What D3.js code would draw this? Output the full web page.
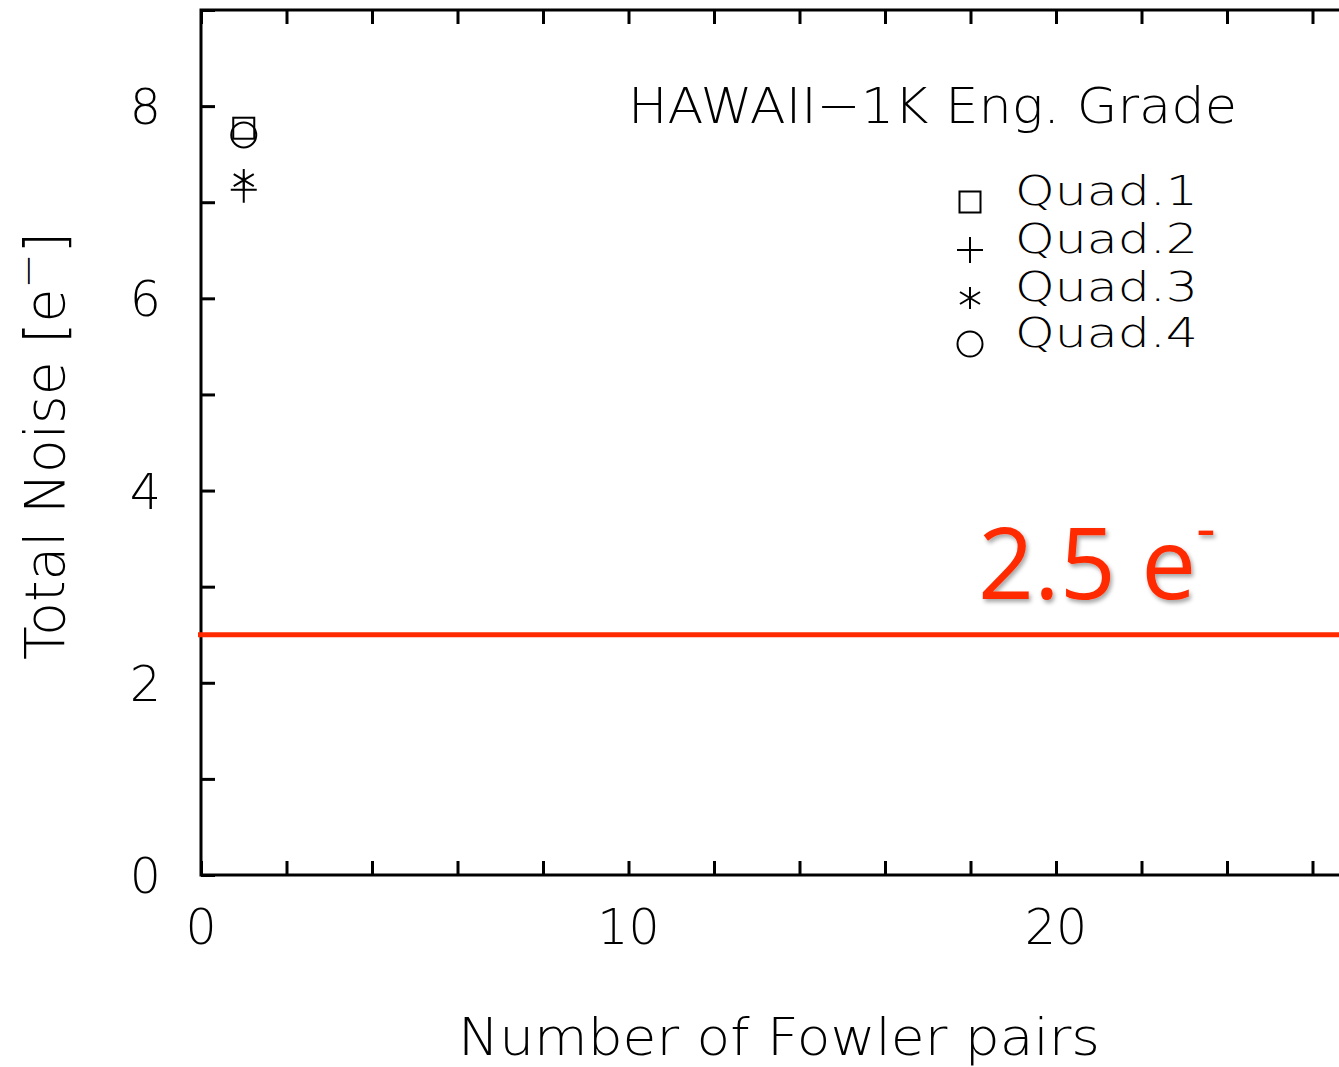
<!DOCTYPE html>
<html>
<head>
<meta charset="utf-8">
<script src="https://cdn.jsdelivr.net/npm/d3@7"></script>
<style>
  html, body { margin: 0; padding: 0; background: #fff; }
  svg { display: block; }
  .lbl { font-family: "DejaVu Sans", sans-serif; font-weight: 200; fill: #000; }
</style>
</head>
<body>
<svg id="chart" width="1339" height="1067"></svg>
<script>
// Total noise per quadrant vs. number of Fowler pairs
const quadrants = ["Quad.1", "Quad.2", "Quad.3", "Quad.4"];
const fowlerPairs = [1, 1, 1, 1];
const totalNoise = [7.77, 7.13, 7.23, 7.70];
const symbols = ["square", "plus", "asterisk", "circle"];
const xTicks = [0, 10, 20];
const yTicks = [0, 2, 4, 6, 8];
const requirement = 2.5;
const chartTitle = "HAWAII\u22121K Eng. Grade";

const svg = d3.select("#chart");
const W = 1339, H = 1067;
const x = d3.scaleLinear().domain([0, 30]).range([201, 201 + 30 * 42.75]);
const y = d3.scaleLinear().domain([0, 9]).range([875, 10]);

// frame
svg.append("rect")
  .attr("x", x(0)).attr("y", y(9))
  .attr("width", x(30) - x(0)).attr("height", y(0) - y(9))
  .attr("fill", "none").attr("stroke", "#000").attr("stroke-width", 3);

// inward ticks: every 2 on x, every 1 on y
const tickLen = 14;
const xAxisB = d3.axisBottom(x).tickValues(d3.range(0, 31, 2)).tickSize(-tickLen).tickFormat("");
const xAxisT = d3.axisTop(x).tickValues(d3.range(0, 31, 2)).tickSize(-tickLen).tickFormat("");
const yAxisL = d3.axisLeft(y).tickValues(d3.range(0, 10, 1)).tickSize(-tickLen).tickFormat("");
[[xAxisB, `translate(0,${y(0)})`], [xAxisT, `translate(0,${y(9)})`], [yAxisL, `translate(${x(0)},0)`]]
  .forEach(([ax, tr]) => {
    const g = svg.append("g").attr("transform", tr).call(ax);
    g.select(".domain").remove();
    g.selectAll(".tick line").attr("stroke", "#000").attr("stroke-width", 3);
  });

// tick labels
svg.append("g").selectAll("text").data(xTicks).join("text")
  .attr("class", "lbl")
  .attr("x", d => x(d)).attr("y", 944)
  .attr("text-anchor", "middle")
  .attr("font-size", 49)
  .text(d => d);
svg.append("g").selectAll("text").data(yTicks).join("text")
  .attr("class", "lbl")
  .attr("x", 161).attr("y", d => y(d) + 18)
  .attr("text-anchor", "end")
  .attr("font-size", 49)
  .text(d => d);

// axis titles
svg.append("text").attr("class", "lbl")
  .attr("x", 458).attr("y", 1055)
  .attr("font-size", 52)
  .attr("textLength", 642).attr("lengthAdjust", "spacingAndGlyphs")
  .text("Number of Fowler pairs");

const yt = svg.append("text").attr("class", "lbl")
  .attr("transform", "translate(64,660) rotate(-90)")
  .attr("font-size", 55);
yt.append("tspan").text("Total Noise [e");
yt.append("tspan").attr("dy", -22).attr("font-size", 42).text("\u2212");
yt.append("tspan").attr("dy", 22).text("]");

// title
svg.append("text").attr("class", "lbl")
  .attr("x", 628).attr("y", 123)
  .attr("font-size", 50)
  .attr("textLength", 609).attr("lengthAdjust", "spacingAndGlyphs")
  .text(chartTitle);

// plot symbols
function drawSymbol(g, type, cx, cy) {
  const s = g.append("g").attr("transform", `translate(${cx},${cy})`)
    .attr("fill", "none").attr("stroke", "#000").attr("stroke-width", 2);
  if (type === "square") {
    s.append("rect").attr("x", -10.5).attr("y", -10.5).attr("width", 21).attr("height", 21);
  } else if (type === "plus") {
    s.append("path").attr("d", "M-13,0H13M0,-13V13");
  } else if (type === "asterisk") {
    s.append("path").attr("d", "M0,-11V11M-10,-6L10,6M-10,6L10,-6");
  } else {
    s.append("circle").attr("r", 12.5);
  }
}

// data points
const pts = svg.append("g");
quadrants.forEach((q, i) => drawSymbol(pts, symbols[i], x(fowlerPairs[i]), y(totalNoise[i])));

// legend
const leg = svg.append("g");
const legY = [202, 250, 298, 344];
quadrants.forEach((q, i) => {
  drawSymbol(leg, symbols[i], 970, legY[i]);
  leg.append("text").attr("class", "lbl")
    .attr("x", 1015).attr("y", legY[i] + 3)
    .attr("font-size", 41)
    .attr("textLength", 183).attr("lengthAdjust", "spacingAndGlyphs")
    .text(q);
});

// requirement line and label
const defs = svg.append("defs");
const f = defs.append("filter").attr("id", "shadow").attr("x", "-10%").attr("y", "-10%").attr("width", "130%").attr("height", "140%");
f.append("feDropShadow").attr("dx", 2).attr("dy", 3).attr("stdDeviation", 2)
  .attr("flood-color", "#000").attr("flood-opacity", 0.35);

svg.append("line")
  .attr("x1", x(0) - 3).attr("x2", W)
  .attr("y1", y(requirement)).attr("y2", y(requirement))
  .attr("stroke", "#ff2a00").attr("stroke-width", 5);

const rt = svg.append("text")
  .attr("x", 978).attr("y", 599)
  .attr("font-family", "'Open Sans', sans-serif")
  .attr("font-size", 98)
  .attr("fill", "#ff2a00")
  .attr("filter", "url(#shadow)");
rt.append("tspan").text(requirement + " e");
rt.append("tspan").attr("dy", -50).attr("font-size", 60).text("-");
</script>
</body>
</html>
